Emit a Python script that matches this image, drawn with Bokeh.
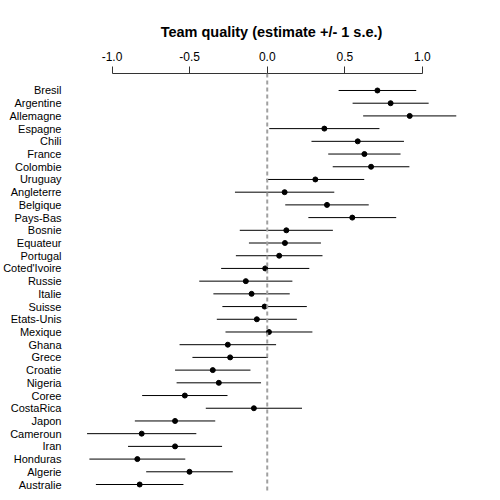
from bokeh.plotting import figure
from bokeh.models import ColumnDataSource, Span, FixedTicker
from bokeh.embed import file_html
from bokeh.resources import INLINE

teams = ["Bresil", "Argentine", "Allemagne", "Espagne", "Chili", "France", "Colombie",
         "Uruguay", "Angleterre", "Belgique", "Pays-Bas", "Bosnie", "Equateur", "Portugal",
         "Coted'Ivoire", "Russie", "Italie", "Suisse", "Etats-Unis", "Mexique", "Ghana",
         "Grece", "Croatie", "Nigeria", "Coree", "CostaRica", "Japon", "Cameroun", "Iran",
         "Honduras", "Algerie", "Australie"]
estimate = [0.71, 0.795, 0.918, 0.368, 0.583, 0.626, 0.669, 0.31, 0.112, 0.385, 0.548,
            0.123, 0.114, 0.077, -0.013, -0.138, -0.101, -0.017, -0.067, 0.011, -0.254,
            -0.239, -0.351, -0.312, -0.531, -0.086, -0.594, -0.809, -0.594, -0.837,
            -0.501, -0.822]
std_err = [0.25, 0.245, 0.30, 0.355, 0.298, 0.233, 0.247, 0.315, 0.32, 0.269, 0.283,
           0.30, 0.232, 0.279, 0.284, 0.30, 0.246, 0.272, 0.258, 0.28, 0.311,
           0.243, 0.243, 0.272, 0.275, 0.31, 0.259, 0.352, 0.303, 0.309, 0.279, 0.282]
x_ticks = [-1.0, -0.5, 0.0, 0.5, 1.0]

n = len(teams)
ypos = [n - i for i in range(n)]
lower = [e - s for e, s in zip(estimate, std_err)]
upper = [e + s for e, s in zip(estimate, std_err)]

src = ColumnDataSource(dict(y=ypos, est=estimate, lo=lower, hi=upper, team=teams))

p = figure(frame_width=398, frame_height=419, output_backend="svg", toolbar_location=None,
           x_range=(-1.2548, 1.3097), y_range=(0.371, 33.337),
           x_axis_location="above",
           title="Team quality (estimate +/- 1 s.e.)")
p.min_border_left = 69
p.min_border_right = 17
p.min_border_bottom = 0
p.min_border_top = 73
p.outline_line_color = None
p.background_fill_color = "white"
p.border_fill_color = "white"
p.grid.visible = False

p.title.align = "center"
p.title.text_font = "Liberation Sans"
p.title.text_font_size = "14.5px"
p.title.text_font_style = "bold"
p.title.text_color = "black"
p.title.standoff = 18

xa = p.xaxis[0]
xa.ticker = FixedTicker(ticks=x_ticks)
xa.bounds = (x_ticks[0], x_ticks[-1])
xa.major_tick_out = 7
xa.major_tick_in = 0
xa.minor_tick_out = 0
xa.minor_tick_in = 0
xa.axis_line_color = "#333333"
xa.major_tick_line_color = "#333333"
xa.major_label_text_font = "Liberation Sans"
xa.major_label_text_font_size = "12px"
xa.major_label_text_color = "black"
xa.major_label_standoff = 6
xa.major_label_overrides = {t: f"{t:.1f}" for t in x_ticks}

ya = p.yaxis[0]
ya.ticker = FixedTicker(ticks=ypos)
ya.major_label_overrides = {y: t for y, t in zip(ypos, teams)}
ya.axis_line_color = None
ya.major_tick_line_color = None
ya.minor_tick_line_color = None
ya.major_tick_out = 0
ya.major_tick_in = 0
ya.major_label_standoff = 11
ya.major_label_text_font = "Liberation Sans"
ya.major_label_text_font_size = "11px"
ya.major_label_text_color = "black"

p.add_layout(Span(location=0, dimension="height", line_color="#a0a0a0",
                  line_width=2, line_dash="4 3"))

p.segment(x0="lo", x1="hi", y0="y", y1="y", source=src, line_color="black", line_width=1)
p.scatter(x="est", y="y", source=src, size=5, fill_color="black", line_color="black")

open("out.html", "w").write(file_html(p, INLINE))
